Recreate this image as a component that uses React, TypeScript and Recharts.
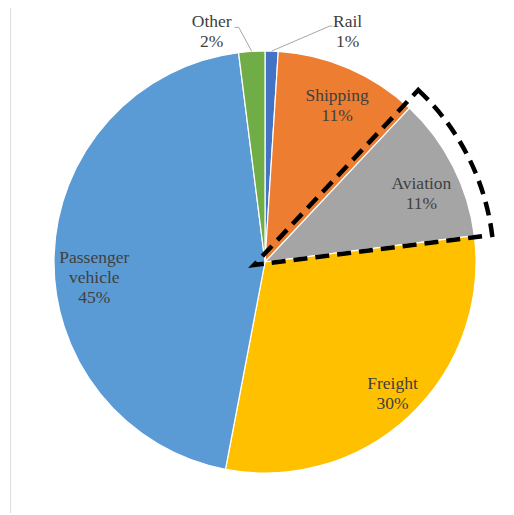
import React from "react";
import { PieChart, Pie, Cell } from "recharts";

const categories = ["Rail", "Shipping", "Aviation", "Freight", "Passenger vehicle", "Other"];
const shares = [1, 11, 11, 30, 45, 2];
const colors = ["#4472C4", "#ED7D31", "#A5A5A5", "#FFC000", "#5B9BD5", "#70AD47"];
const highlighted = "Aviation";

const data = categories.map((name, i) => ({ name, value: shares[i] }));
const total = shares.reduce((a, b) => a + b, 0);

const RAD = Math.PI / 180;
const FONT = "'Liberation Serif', 'Times New Roman', serif";
const TEXT = "#404040";
const LINE_H = 20;
const textStyle: React.CSSProperties = { fontFamily: FONT, fontSize: 17.5, fill: TEXT };

// inside-label nudges (pixels) relative to 0.8R along the mid angle
const inside: Record<string, { dx: number; dy: number }> = {
  Shipping: { dx: 5, dy: -2 },
  Aviation: { dx: 6, dy: 8 },
  Freight: { dx: 12, dy: 8 },
  "Passenger vehicle": { dx: -2, dy: 20 },
};
// outside labels: leader line end and text centre relative to the arc point
const outside: Record<string, { lx: number; ly: number; hx: number; tx: number; ty: number }> = {
  Rail: { lx: 58, ly: -25, hx: 3, tx: 76, ty: -30 },
  Other: { lx: -13, ly: -24, hx: -4, tx: -40, ty: -30 },
};

const Lines = ({ x, y, lines }: { x: number; y: number; lines: string[] }) => (
  <text x={x} y={y} textAnchor="middle" style={textStyle}>
    {lines.map((l, k) => (
      <tspan key={k} x={x} y={y + k * LINE_H} dominantBaseline="central" style={textStyle}>
        {l}
      </tspan>
    ))}
  </text>
);

const renderLabel = (props: any) => {
  const { cx, cy, midAngle, outerRadius, name, value, index } = props;
  const pct = `${Math.round((value / total) * 100)}%`;
  const lines = [...String(name).split(" "), pct];
  const cos = Math.cos(-midAngle * RAD);
  const sin = Math.sin(-midAngle * RAD);
  if (outside[name]) {
    const o = outside[name];
    const ax = cx + outerRadius * cos;
    const ay = cy + outerRadius * sin;
    const ex = ax + o.lx;
    const ey = ay + o.ly;
    return (
      <g key={`lbl-${index}`}>
        <polyline
          points={`${ax},${ay} ${ex},${ey} ${ex + o.hx},${ey}`}
          fill="none"
          stroke="#a6a6a6"
          strokeWidth={1}
        />
        <Lines x={ax + o.tx} y={ay + o.ty} lines={lines} />
      </g>
    );
  }
  const n = inside[name] || { dx: 0, dy: 0 };
  const r = outerRadius * 0.8;
  const x = cx + r * cos + n.dx;
  const y = cy + r * sin + n.dy;
  const y0 = y - ((lines.length - 1) * LINE_H) / 2;
  return (
    <g key={`lbl-${index}`}>
      <Lines x={x} y={y0} lines={lines} />
    </g>
  );
};

export default function App() {
  return (
    <div
      style={{
        marginLeft: 2,
        marginTop: -2,
        width: 502,
        height: 506,
        borderTop: "1px solid #dedede",
        borderLeft: "1px solid #dedede",
        background: "#fff",
      }}
    >
      <PieChart width={502} height={506} margin={{ top: 0, right: 0, bottom: 0, left: 0 }}>
        <Pie
          data={data}
          dataKey="value"
          nameKey="name"
          cx={254}
          cy={255}
          outerRadius={211}
          startAngle={90}
          endAngle={-270}
          stroke="#ffffff"
          strokeWidth={1.2}
          label={renderLabel}
          labelLine={false}
          isAnimationActive={false}
        >
          {data.map((d, i) => (
            <Cell key={d.name} fill={colors[i]} />
          ))}
        </Pie>
        <Pie
          data={data}
          dataKey="value"
          nameKey="name"
          cx={243}
          cy={258}
          outerRadius={240}
          startAngle={90}
          endAngle={-270}
          label={false}
          labelLine={false}
          isAnimationActive={false}
        >
          {data.map((d) => (
            <Cell
              key={d.name}
              fill="none"
              stroke={d.name === highlighted ? "#000000" : "none"}
              strokeWidth={d.name === highlighted ? 4.5 : 0}
              strokeDasharray={d.name === highlighted ? "14 8" : undefined}
              strokeLinejoin="miter"
            />
          ))}
        </Pie>
      </PieChart>
    </div>
  );
}
